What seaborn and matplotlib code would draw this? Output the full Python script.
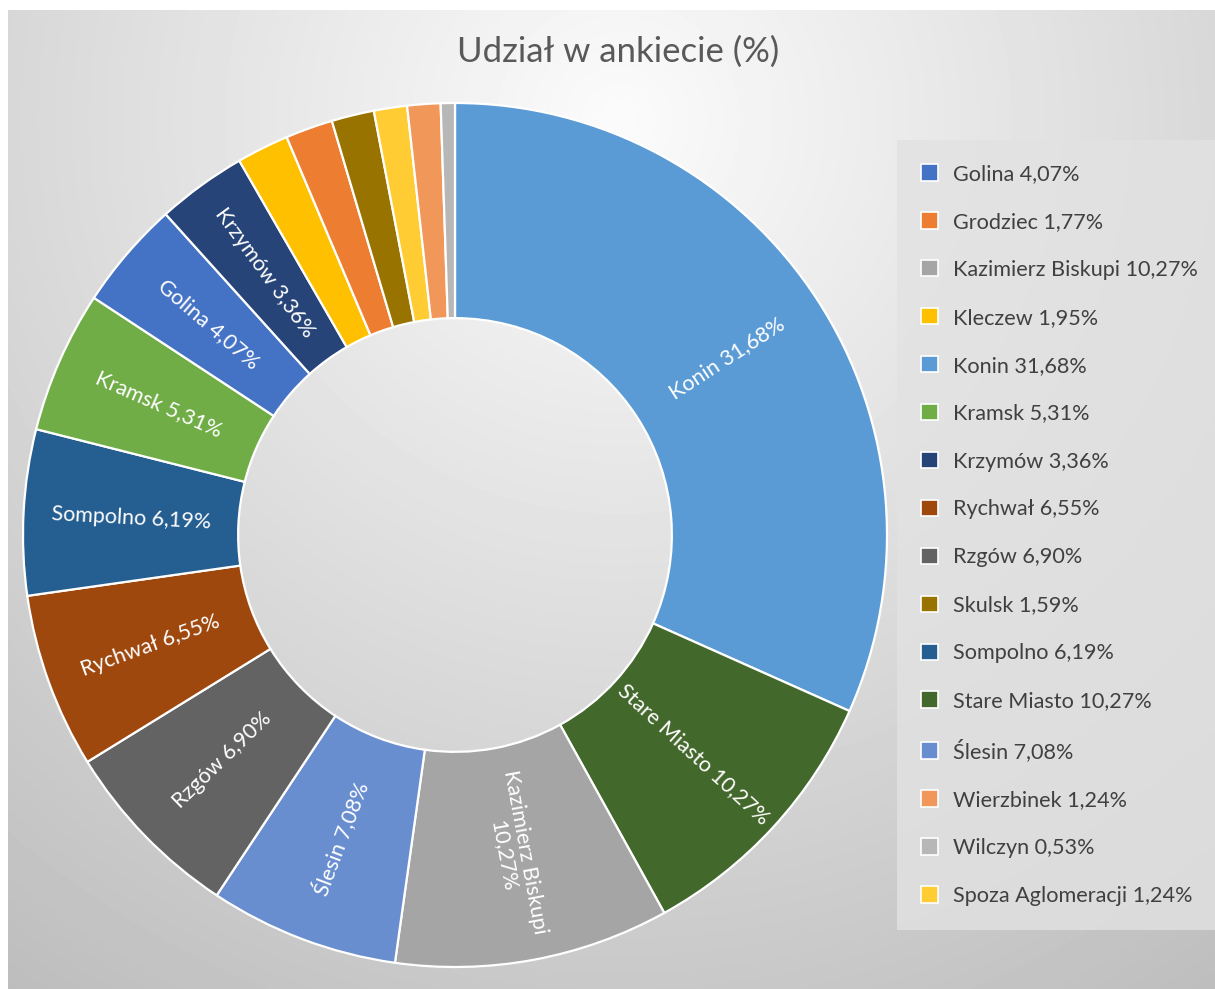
import numpy as np
import matplotlib
matplotlib.use("Agg")
import matplotlib.pyplot as plt
import seaborn as sns

# slice order (clockwise from top) as drawn in the chart
names = ["Konin", "Stare Miasto", "Kazimierz Biskupi", "Ślesin", "Rzgów", "Rychwał",
         "Sompolno", "Kramsk", "Golina", "Krzymów", "Kleczew", "Grodziec", "Skulsk",
         "Spoza Aglomeracji", "Wierzbinek", "Wilczyn"]
shares = [31.68, 10.27, 10.27, 7.08, 6.90, 6.55, 6.19, 5.31, 4.07, 3.36,
          1.95, 1.77, 1.59, 1.24, 1.24, 0.53]
colors = ["#5B9BD5", "#43682B", "#A5A5A5", "#698ED0", "#636363", "#9E480E",
          "#255E91", "#70AD47", "#4472C4", "#264478", "#FFC000", "#ED7D31",
          "#997300", "#FFCD33", "#F1975A", "#B7B7B7"]
# legend order
legend_order = ["Golina", "Grodziec", "Kazimierz Biskupi", "Kleczew", "Konin", "Kramsk",
                "Krzymów", "Rychwał", "Rzgów", "Skulsk", "Sompolno", "Stare Miasto",
                "Ślesin", "Wierzbinek", "Wilczyn", "Spoza Aglomeracji"]
min_label_share = 3.0

sns.set_theme(style="white")
plt.rcParams["font.family"] = ["Lato", "DejaVu Sans"]

def fmt(v):
    return f"{v:.2f}".replace(".", ",") + "%"

W, H = 1215, 989
fig = plt.figure(figsize=(W / 100, H / 100), dpi=100)
fig.patch.set_facecolor("white")

# gradient background
bg = fig.add_axes([8 / W, 0, (W - 8) / W, (H - 10) / H])
yy, xx = np.mgrid[0:979, 0:1207]
d = np.hypot(xx - 610, (yy - 110) * 1.0) / 1000
val = np.clip(0.985 - 0.23 * d, 0, 1)
bg.imshow(val, cmap="gray", vmin=0, vmax=1, aspect="auto", interpolation="bilinear")
bg.axis("off")

# donut
cx, cy, R = 455, 535, 432
ax = fig.add_axes([(cx - R) / W, (H - cy - R) / H, 2 * R / W, 2 * R / H])
ax.patch.set_alpha(0)
wedges, _ = ax.pie(shares, colors=sns.color_palette(colors), startangle=90,
                   counterclock=False, radius=1,
                   wedgeprops=dict(width=0.498, edgecolor="white", linewidth=1.6))
ax.set_xlim(-1, 1)
ax.set_ylim(-1, 1)
ax.axis("off")

for w, n, v in zip(wedges, names, shares):
    if v < min_label_share:
        continue
    ang = (w.theta1 + w.theta2) / 2
    x = 0.75 * np.cos(np.radians(ang))
    y = 0.75 * np.sin(np.radians(ang))
    rot = ang if np.cos(np.radians(ang)) >= 0 else ang + 180
    rot = (rot + 180) % 360 - 180
    lab = f"{n} {fmt(v)}" if n != "Kazimierz Biskupi" else f"{n}\n{fmt(v)}"
    ax.text(x, y, lab, rotation=rot, rotation_mode="anchor", ha="center", va="center",
            color="white", fontsize=15.5, linespacing=1.1)

fig.text(618 / W, 1 - 52 / H, "Udział w ankiecie (%)", ha="center", va="center",
         fontsize=25, color="#595959")

# legend
lookup = dict(zip(names, zip(shares, colors)))
handles = [plt.Rectangle((0, 0), 1, 1, facecolor=lookup[n][1], edgecolor="white", linewidth=1.2)
           for n in legend_order]
labels = [f"{n} {fmt(lookup[n][0])}" for n in legend_order]
leg = fig.legend(handles, labels, loc="upper left", bbox_to_anchor=(897 / W, 1 - 140 / H),
                 fontsize=15.6, frameon=True, fancybox=False, labelspacing=1.29,
                 handlelength=0.8, handleheight=0.8, handletextpad=0.7,
                 borderpad=1.1, borderaxespad=0, labelcolor="#404040")
leg.get_frame().set_facecolor("#e2e2e2")
leg.get_frame().set_alpha(0.8)
leg.get_frame().set_edgecolor("none")

fig.savefig("out.png", dpi=100)
